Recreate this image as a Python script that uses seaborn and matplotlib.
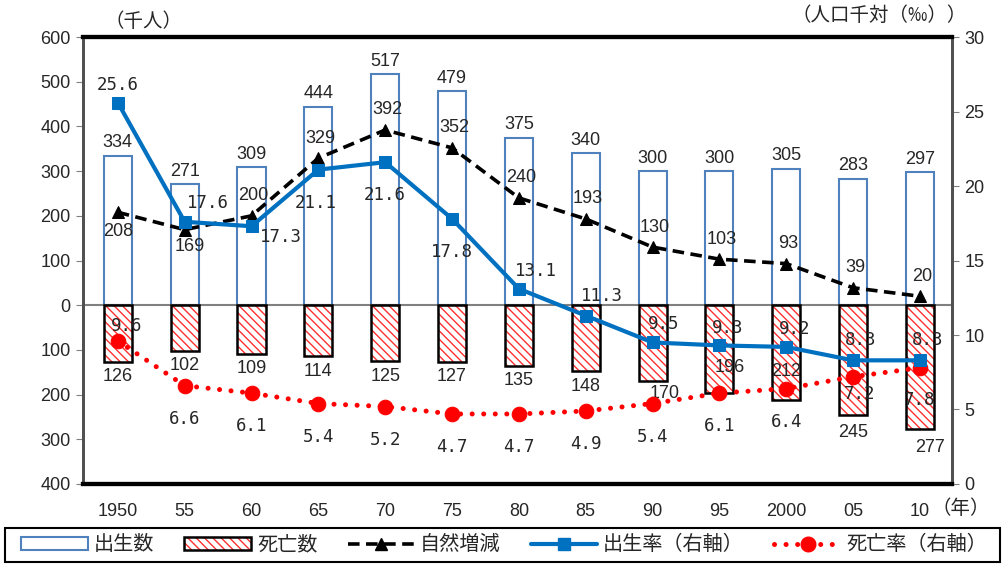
import numpy as np
import pandas as pd
import matplotlib
matplotlib.use("Agg")
import matplotlib.pyplot as plt
from matplotlib.patches import Patch, Rectangle
from matplotlib.lines import Line2D
from matplotlib.legend_handler import HandlerTuple
import seaborn as sns

# data
years = ["1950", "55", "60", "65", "70", "75", "80", "85", "90", "95", "2000", "05", "10"]
births = [334, 271, 309, 444, 517, 479, 375, 340, 300, 300, 305, 283, 297]
deaths = [126, 102, 109, 114, 125, 127, 135, 148, 170, 196, 212, 245, 277]
natural = [208, 169, 200, 329, 392, 352, 240, 193, 130, 103, 93, 39, 20]
birth_rate = [25.6, 17.6, 17.3, 21.1, 21.6, 17.8, 13.1, 11.3, 9.5, 9.3, 9.2, 8.3, 8.3]
death_rate = [9.6, 6.6, 6.1, 5.4, 5.2, 4.7, 4.7, 4.9, 5.4, 6.1, 6.4, 7.2, 7.8]

# label offsets in pixels (dx, dy), style only
nat_off = [(0, -19), (5, -17)] + [(2, 20)] * 11
death_off = [(0, -15)] * 8 + [(12, -12), (10, 25), (0, 28), (0, -18), (10, -18)]
br_off = [(0, 18), (23, 19), (29, -11), (-3, -33), (0, -33), (0, -33),
          (17, 18), (16, 20), (11, 18), (8, 17), (8, 18), (8, 20), (8, 20)]
dr_off = [(9, 15)] + [(0, -33)] * 10 + [(7, -17), (0, -32)]

sns.set_style("white")
plt.rcParams["font.family"] = ["Liberation Sans", "Noto Sans CJK JP", "DejaVu Sans"]
plt.rcParams["hatch.linewidth"] = 1.0

df = pd.DataFrame({"year": years, "pos": np.arange(len(years)),
                   "births": births, "deaths": [-d for d in deaths],
                   "natural": natural, "birth_rate": birth_rate,
                   "death_rate": death_rate})

fig = plt.figure(figsize=(10.03, 5.67), dpi=100)
ax = fig.add_axes([0.0828, 0.1464, 0.8664, 0.7883])

blue = "#0070C0"
bar_edge = "#4F81BD"
red = "#FF3030"
hatch = "\\\\\\\\"

# births bars
sns.barplot(data=df, x="year", y="births", order=years, color="white",
            width=0.42, ax=ax, saturation=1, zorder=2)
n_b = len(ax.patches)
for p in ax.patches:
    p.set_facecolor("white")
    p.set_edgecolor(bar_edge)
    p.set_linewidth(1.5)

# deaths bars (hatched)
sns.barplot(data=df, x="year", y="deaths", order=years, color="white",
            width=0.42, ax=ax, saturation=1, zorder=2)
for p in ax.patches[n_b:]:
    p.set_facecolor("white")
    p.set_edgecolor(red)
    p.set_hatch(hatch)
    p.set_linewidth(0)
    ax.add_patch(Rectangle(p.get_xy(), p.get_width(), p.get_height(),
                           fill=False, edgecolor="black", lw=1.8, zorder=3))

ax.axhline(0, color="#808080", lw=1.5, zorder=2.5)

# natural increase
sns.lineplot(data=df, x="pos", y="natural", ax=ax, color="black", lw=2.6,
             marker="^", markersize=9, markeredgecolor="black",
             dashes=False, zorder=4)
ax.lines[-1].set_dashes([3.2, 1.8])

ax.set_xlim(-0.52, 12.48)
ax.set_ylim(-400, 600)
ax.set_yticks(range(-400, 601, 100))
ax.set_yticklabels([str(abs(v)) for v in range(-400, 601, 100)], fontsize=13)
ax.set_xticks(range(len(years)))
ax.set_xticklabels(years, fontsize=13)
ax.set_xlabel("")
ax.set_ylabel("")
ax.tick_params(axis="y", left=True, length=5, color="#808080", pad=4)
ax.tick_params(axis="x", bottom=False, pad=10)

for i in range(len(years)):
    ax.annotate(str(births[i]), (i, births[i]), xytext=(0, 13),
                textcoords="offset pixels", ha="center", va="center", fontsize=13, zorder=6)
    ax.annotate(str(deaths[i]), (i, -deaths[i]), xytext=death_off[i],
                textcoords="offset pixels", ha="center", va="center", fontsize=13, zorder=6)
    ax.annotate(str(natural[i]), (i, natural[i]), xytext=nat_off[i],
                textcoords="offset pixels", ha="center", va="center", fontsize=13, zorder=6)

# rates on right axis
ax2 = ax.twinx()
sns.lineplot(data=df, x="pos", y="death_rate", ax=ax2, color="#FF0000", lw=3.6,
             marker="o", markersize=10.5, markeredgecolor="#FF0000", zorder=4)
ax2.lines[-1].set_linestyle((0, (0.01, 2.3)))
ax2.lines[-1].set_dash_capstyle("round")
sns.lineplot(data=df, x="pos", y="birth_rate", ax=ax2, color=blue, lw=3,
             marker="s", markersize=9, markeredgecolor=blue, zorder=5)
ax2.set_ylim(0, 30)
ax2.set_yticks(range(0, 31, 5))
ax2.set_yticklabels([str(v) for v in range(0, 31, 5)], fontsize=13)
ax2.set_ylabel("")
ax2.tick_params(axis="y", right=True, length=5, color="#808080", pad=4)
ax2.set_xlim(-0.52, 12.48)

for i in range(len(years)):
    ax2.annotate(f"{birth_rate[i]:.1f}", (i, birth_rate[i]), xytext=br_off[i],
                 textcoords="offset pixels", ha="center", va="center",
                 fontsize=12.5, family="DejaVu Sans Mono", zorder=7)
    ax2.annotate(f"{death_rate[i]:.1f}", (i, death_rate[i]), xytext=dr_off[i],
                 textcoords="offset pixels", ha="center", va="center",
                 fontsize=12.5, family="DejaVu Sans Mono", zorder=7)

for a in (ax, ax2):
    a.spines["top"].set_color("black")
    a.spines["top"].set_linewidth(3)
    a.spines["bottom"].set_color("black")
    a.spines["bottom"].set_linewidth(3)
    a.spines["left"].set_color("#505050")
    a.spines["left"].set_linewidth(2)
    a.spines["right"].set_color("#505050")
    a.spines["right"].set_linewidth(2)

fig.text(0.143, 0.962, "（千人）", ha="center", va="center", fontsize=14,
         family=["Noto Sans CJK JP"])
fig.text(0.877, 0.972, "（人口千対（‰））", ha="center", va="center", fontsize=14,
         family=["Noto Sans CJK JP", "DejaVu Sans"])
fig.text(0.958, 0.104, "（年）", ha="center", va="center", fontsize=14,
         family=["Noto Sans CJK JP"])

handles = [
    Patch(facecolor="white", edgecolor=bar_edge, lw=1.5),
    (Patch(facecolor="white", edgecolor=red, hatch=hatch, lw=0),
     Patch(fill=False, edgecolor="black", lw=1.8)),
    Line2D([], [], color="black", lw=2.6, dashes=[3.2, 1.8], marker="^", markersize=9),
    Line2D([], [], color=blue, lw=3, marker="s", markersize=9),
    Line2D([], [], color="#FF0000", lw=3.6, linestyle=(0, (0.01, 2.3)),
           dash_capstyle="round", marker="o", markersize=10.5),
]
labels = ["出生数", "死亡数", "自然増減", "出生率（右軸）", "死亡率（右軸）"]
leg = fig.legend(handles, labels, loc="center", ncol=5,
                 bbox_to_anchor=(0.503, 0.039), frameon=False,
                 handlelength=3.3, handleheight=0.6, columnspacing=1.5,
                 prop={"family": "Noto Sans CJK JP", "size": 14.5},
                 handletextpad=0.3,
                 handler_map={tuple: HandlerTuple(ndivide=1, pad=0)})
fig.patches.append(Rectangle((5 / 1003, 5 / 567), 995 / 1003, 34 / 567,
                             transform=fig.transFigure, fill=False,
                             edgecolor="black", lw=1.5))
if ax.get_legend() is not None:
    ax.get_legend().remove()

fig.savefig("out.png", dpi=100)
